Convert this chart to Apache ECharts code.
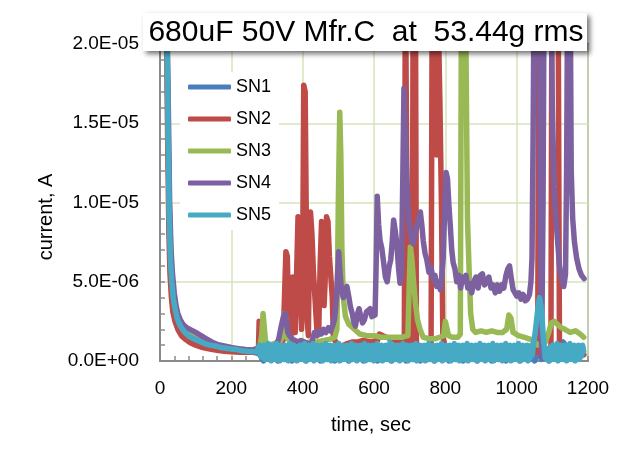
<!DOCTYPE html>
<html>
<head>
<meta charset="utf-8">
<script src="https://cdn.jsdelivr.net/npm/echarts@6/dist/echarts.min.js"></script>
<style>
html,body{margin:0;padding:0;background:#fff;}
#chart{width:620px;height:453px;}
</style>
</head>
<body>
<div id="chart"></div>
<script>
// values in microamps (1e-6 A); time in seconds
const seriesNames = ['SN1', 'SN2', 'SN3', 'SN4', 'SN5'];
const yTickLabels = ['0.0E+00', '5.0E-06', '1.0E-05', '1.5E-05', '2.0E-05'];
const xTickLabels = ['0', '200', '400', '600', '800', '1000', '1200'];
const titleText = '680uF 50V Mfr.C  at  53.44g rms';
const xName = 'time, sec';
const yName = 'current, A';

const sn1 = [[15,25],[20,19],[24,12],[28,7.5],[32,5.2],[36,4],[42,3.1],[50,2.5],[60,2.0],[72,1.7],[85,1.5],[100,1.35],[118,1.2],[135,1.05],[155,0.95],[175,0.85],[200,0.75],[225,0.68],[250,0.6],[272,0.5],
[280,0.4],[290,0.0],[300,0.5],[310,0.1],[320,0.4],[330,0.0],[340,0.6],[350,0.1],[360,0.3],[370,0.0],[380,0.5],[390,0.1],[400,0.4],[410,0.0],[420,0.6],[430,0.1],[440,0.3],[450,0.0],[460,0.5],[470,0.1],[480,0.4],[490,0.0],[500,0.6],[510,0.1],[520,0.3],[530,0.0],[540,0.5],[550,0.1],[560,0.4],[570,0.0],[580,0.6],[590,0.1],[600,0.3],[610,0.0],[620,0.5],[630,0.1],[640,0.4],[650,0.0],[660,0.6],[670,0.1],[680,0.3],[690,0.0],[700,0.5],[710,0.1],[720,0.4],[730,0.0],[740,0.6],[750,0.1],[760,0.3],[770,0.0],[780,0.5],[790,0.1],[800,0.4],[810,0.0],[820,0.6],[830,0.1],[840,0.3],[850,0.0],[860,0.5],[870,0.1],[880,0.4],[890,0.0],[900,0.6],[910,0.1],[920,0.3],[930,0.0],[940,0.5],[950,0.1],[960,0.4],[970,0.0],[980,0.6],[990,0.1],[1000,0.3],[1010,0.0],[1020,0.5],[1030,0.1],[1040,0.4],[1050,0.0],[1060,0.5],[1070,0.1],[1080,0.4],[1090,0.0],[1100,0.6],[1110,0.2],[1120,1.0],[1130,1.2],[1140,0.9],[1150,0.3],[1160,0.6],[1170,0.2],[1180,0.7],[1188,0.4]];

const sn2 = [[15,25],[19,19],[22,13],[25,8],[28,5.5],[32,4],[36,3.1],[42,2.5],[50,2.0],[60,1.6],[72,1.35],[85,1.15],[100,1.0],[120,0.85],[140,0.75],[160,0.68],[180,0.62],[200,0.58],[225,0.55],[250,0.55],[270,0.6],
[276,0.7],[278,2.5],[283,2.5],[286,0.8],[295,0.7],[305,0.8],[315,0.9],[325,1.0],[335,1.1],[345,1.3],[349,4.0],[353,6.9],[357,6.6],[360,3.2],[364,3.0],[368,1.6],[372,5.3],[375,4.5],[379,1.8],[383,5.5],[387,9.1],[391,8.5],[394,4.0],[397,2.0],[400,6.0],[403,17.4],[407,17.0],[410,9.5],[413,2.5],[416,1.6],[419,7.0],[422,9.4],[426,8.0],[430,5.7],[434,5.6],[437,3.0],[441,1.6],[445,1.8],[449,6.0],[453,8.8],[457,8.5],[460,3.5],[463,5.0],[467,9.1],[471,8.8],[475,6.6],[479,6.6],[483,4.0],[486,1.6],[490,1.3],[496,1.1],[505,1.0],[511,0.9],[513,0.2],[515,1.0],[525,1.1],[540,1.2],[555,1.2],[570,1.3],[590,1.2],[610,1.3],[615,1.7],[625,1.6],[635,1.5],[645,1.4],[660,1.3],[675,1.2],[685,1.0],[688,25],[692,25],[695,0.9],[700,0.8],[707,0.9],[710,25],[716,25],[719,0.6],[730,0.7],[745,0.8],[760,0.9],[763,22],[768,14],[772,22],[776,13],[780,22],[785,16],[789,10],[793,1.5],[800,0.9],[815,0.8],[830,0.8],[850,0.7],[870,0.7],[890,0.6],[910,0.6],[930,0.7],[950,0.6],[970,0.6],[990,0.5],[1010,0.5],[1030,0.5],[1050,0.5],[1059,0.6],[1062,25],[1065,25],[1068,0.4],[1080,0.4],[1096,0.5],[1099,25],[1116,25],[1120,0.8],[1130,0.6],[1150,0.5],[1170,0.5],[1188,0.4]];

const sn3 = [[15,26],[20,20],[24,13],[27,9],[30,7],[34,5.2],[38,4.2],[44,3.3],[52,2.6],[60,2.2],[70,1.9],[82,1.65],[95,1.5],[110,1.3],[130,1.15],[150,1.0],[175,0.9],[200,0.8],[225,0.72],[250,0.68],[270,0.75],
[280,0.9],[285,1.6],[289,3.0],[292,2.9],[296,1.2],[305,1.0],[320,1.1],[335,1.2],[343,1.5],[348,3.0],[352,2.8],[356,1.5],[365,1.2],[380,1.1],[400,1.1],[420,1.2],[440,1.2],[460,1.3],[480,1.4],[490,1.5],[496,2.0],[500,10],[504,15.7],[507,13],[510,7],[514,4],[520,2.8],[530,2.3],[545,2.0],[560,1.7],[580,1.6],[600,1.6],[620,1.5],[640,1.5],[660,1.5],[680,1.5],[695,1.6],[699,5],[702,7.2],[706,6.5],[711,5],[716,3.7],[722,2.6],[729,2.0],[738,1.5],[755,1.4],[770,1.4],[785,1.5],[795,1.6],[800,2.5],[805,2.6],[809,1.6],[820,1.5],[835,1.5],[842,1.7],[845,22],[857,22],[862,9],[867,5.5],[871,3.0],[877,2.0],[885,1.8],[900,1.9],[915,1.8],[930,1.9],[945,1.8],[960,1.8],[972,2.0],[978,2.9],[984,2.7],[990,1.8],[1005,1.6],[1020,1.5],[1035,1.4],[1045,1.3],[1060,1.0],[1080,1.2],[1090,1.8],[1097,2.4],[1105,2.5],[1115,2.3],[1125,2.1],[1135,2.0],[1150,1.8],[1165,1.9],[1178,1.7],[1188,1.5]];

const sn4 = [[15,27],[20,21],[24,15],[27,10],[31,7],[35,5.5],[40,4.3],[45,3.5],[50,3.0],[57,2.6],[65,2.3],[75,2.1],[88,1.95],[100,1.8],[115,1.6],[130,1.4],[145,1.2],[160,1.05],[180,0.95],[200,0.85],[220,0.78],[240,0.72],[260,0.7],[275,0.8],
[285,0.9],[300,0.85],[315,0.9],[325,1.0],[333,1.4],[340,2.2],[346,2.8],[350,3.0],[354,2.6],[358,1.8],[363,1.6],[370,1.4],[378,1.3],[386,1.2],[395,1.3],[405,1.2],[413,1.1],[420,0.9],[427,1.3],[433,1.8],[440,1.6],[446,1.9],[452,1.7],[458,2.0],[465,1.8],[472,2.1],[478,1.9],[484,2.2],[489,2.6],[493,3.5],[497,5.0],[501,6.9],[505,5.5],[509,4.4],[514,4.0],[519,4.5],[524,4.7],[529,4.1],[534,3.4],[539,3.0],[544,2.4],[548,2.2],[553,2.9],[558,3.3],[563,2.8],[568,2.4],[573,2.6],[579,3.1],[584,3.2],[589,3.3],[594,2.8],[599,2.7],[603,2.9],[606,6.0],[609,10.4],[613,8.6],[617,7.6],[622,7.1],[627,6.2],[632,5.3],[637,5.0],[642,5.9],[647,6.4],[651,7.5],[655,8.9],[659,8.3],[664,7.4],[669,5.8],[673,4.9],[677,5.6],[681,12],[684,17.2],[688,14],[692,11.5],[697,9.0],[701,8.3],[705,7.6],[710,7.4],[715,8.0],[720,8.5],[725,8.9],[730,9.4],[734,8.6],[738,7.6],[743,6.8],[748,6.4],[754,5.6],[760,5.9],[766,5.1],[771,5.4],[776,4.7],[781,5.0],[786,4.5],[790,5.4],[794,6.5],[798,9.5],[802,11.9],[806,11.5],[810,9.8],[814,8.5],[818,7.0],[822,6.2],[827,5.8],[832,5.0],[838,5.4],[843,4.6],[848,5.3],[853,5.0],[858,5.4],[863,4.6],[868,4.9],[874,4.3],[880,5.0],[886,5.3],[892,4.6],[898,5.4],[904,5.5],[910,4.8],[916,5.0],[922,5.3],[928,4.6],[934,4.8],[940,4.3],[946,4.8],[952,4.4],[958,4.8],[964,4.6],[970,5.4],[975,5.8],[980,6.0],[985,5.2],[990,4.5],[995,4.6],[1000,4.1],[1006,4.3],[1012,3.9],[1018,4.2],[1024,3.8],[1030,3.9],[1036,4.2],[1040,5.0],[1043,6.5],[1046,14],[1049,24],[1062,24],[1066,12],[1070,0.3],[1074,10],[1077,24],[1096,24],[1100,16],[1105,11],[1110,9],[1115,7.5],[1120,6.0],[1126,5.2],[1132,4.7],[1137,5.5],[1140,12],[1143,24],[1150,24],[1153,12],[1157,9],[1162,7.5],[1168,6.5],[1175,5.8],[1182,5.4],[1189,5.2]];

const sn5 = [[15,26],[20,20],[23,14],[26,9],[29,6.5],[33,5],[37,4],[42,3.3],[48,2.7],[55,2.3],[63,2.0],[72,1.75],[82,1.55],[95,1.4],[110,1.25],[125,1.1],[140,1.0],[155,0.95],[170,0.85],[185,0.8],[200,0.75],[215,0.72],[230,0.65],[245,0.62],[260,0.6],[272,0.58],
[276,0.6],[279,1.0],[282,0.3],[285,0.8],[288,0.2],[291,1.0],[294,0.1],[297,0.9],[300,0.2],[303,1.1],[306,0.3],[309,0.8],[312,0.0],[315,1.0],[318,0.2],[321,0.9],[324,0.1],[327,1.1],[330,0.3],[333,0.9],[336,0.0],[339,1.0],[342,0.2],[345,0.8],[348,0.1],[351,1.0],[354,0.3],[357,0.9],[360,0.0],[363,1.1],[366,0.2],[369,0.8],[372,0.1],[375,1.0],[378,0.3],[381,0.9],[384,0.0],[387,0.8],[390,0.2],[393,1.0],[396,0.1],[399,0.9],[402,0.3],[405,1.1],[408,0.0],[411,0.8],[414,0.2],[417,1.0],[420,0.1],[423,0.9],[426,0.3],[429,1.1],[432,0.0],[435,0.9],[438,0.2],[441,1.0],[444,0.1],[447,0.8],[450,0.3],[453,1.0],[456,0.0],[459,0.9],[462,0.2],[465,1.1],[468,0.1],[471,0.9],[474,0.3],[477,1.0],[480,0.0],[483,0.8],[486,0.2],[489,1.0],[492,0.1],[495,0.9],[498,0.3],[501,1.1],[504,0.0],[507,0.9],[510,0.2],[513,1.0],[516,0.1],[519,0.8],[522,0.3],[525,1.0],[528,0.0],[531,0.9],[534,0.2],[537,1.1],[540,0.1],[543,0.9],[546,0.3],[549,1.0],[552,0.0],[555,0.8],[558,0.2],[561,1.0],[564,0.1],[567,0.9],[570,0.3],[573,1.1],[576,0.0],[579,0.9],[582,0.2],[585,1.0],[588,0.1],[591,0.8],[594,0.3],[597,1.0],[600,0.0],[603,0.9],[606,0.2],[609,1.1],[612,0.1],[615,0.9],[618,0.3],[621,1.0],[624,0.0],[627,0.8],[630,0.2],[633,1.0],[636,0.1],[639,0.9],[642,0.3],[645,1.2],[648,0.0],[651,0.9],[654,0.2],[657,1.0],[660,0.1],[663,0.8],[666,0.3],[669,1.0],[672,0.0],[675,0.9],[678,0.2],[681,1.1],[684,0.1],[687,0.9],[690,0.3],[693,1.0],[696,0.0],[699,0.8],[702,0.2],[705,1.0],[708,0.1],[711,0.9],[714,0.3],[717,1.1],[720,0.0],[723,0.9],[726,0.2],[729,1.0],[732,0.1],[735,0.8],[738,0.3],[741,1.0],[744,0.0],[747,0.9],[750,0.2],[753,1.1],[756,0.1],[759,0.9],[762,0.3],[765,1.0],[768,0.0],[771,0.8],[774,0.2],[777,1.0],[780,0.1],[783,0.9],[786,0.3],[789,1.1],[792,0.0],[795,0.9],[798,0.2],[801,1.0],[804,0.1],[807,0.8],[810,0.3],[813,1.0],[816,0.0],[819,0.9],[822,0.2],[825,1.1],[828,0.1],[831,0.9],[834,0.3],[837,1.0],[840,0.0],[843,0.8],[846,0.2],[849,1.0],[852,0.1],[855,0.9],[858,0.3],[861,1.1],[864,0.0],[867,0.9],[870,0.2],[873,1.0],[876,0.1],[879,0.8],[882,0.3],[885,1.0],[888,0.0],[891,0.9],[894,0.2],[897,1.1],[900,0.1],[903,0.9],[906,0.3],[909,1.0],[912,0.0],[915,0.8],[918,0.2],[921,1.0],[924,0.1],[927,0.9],[930,0.3],[933,1.1],[936,0.0],[939,0.9],[942,0.2],[945,1.0],[948,0.1],[951,0.8],[954,0.3],[957,1.0],[960,0.0],[963,0.9],[966,0.2],[969,1.1],[972,0.1],[975,0.9],[978,0.3],[981,1.0],[984,0.0],[987,0.8],[990,0.2],[993,1.0],[996,0.1],[999,0.9],[1002,0.3],[1005,1.1],[1008,0.0],[1011,0.9],[1014,0.2],[1017,1.0],[1020,0.1],[1023,0.8],[1026,0.3],[1029,1.0],[1032,0.0],[1035,0.9],[1038,0.2],[1041,1.0],[1044,0.4],[1048,1.2],[1052,1.8],[1056,2.6],[1060,3.4],[1064,4.0],[1068,3.5],[1072,2.4],[1076,1.2],[1080,0.2],[1083,0.8],[1086,0.1],[1089,0.6],[1092,0.0],[1095,0.9],[1098,0.2],[1101,1.0],[1104,0.1],[1107,0.9],[1110,0.3],[1113,1.1],[1116,0.0],[1119,0.9],[1122,0.2],[1125,1.0],[1128,0.1],[1131,0.8],[1134,0.3],[1137,1.0],[1140,0.0],[1143,0.9],[1146,0.2],[1149,1.1],[1152,0.1],[1155,0.9],[1158,0.3],[1161,1.0],[1164,0.0],[1167,0.8],[1170,0.2],[1173,1.0],[1176,0.1],[1179,0.9],[1182,0.3],[1185,1.0],[1188,0.6]];

const seriesData = [sn1, sn2, sn3, sn4, sn5];
const colors = ['#4a7ebb', '#be4b48', '#98b954', '#7d60a0', '#46aac5'];

const FONT = "'Liberation Sans', Arial, sans-serif";
const chart = echarts.init(document.getElementById('chart'), null, {renderer: 'canvas'});

chart.setOption({
  animation: false,
  color: colors,
  grid: {left: 160, right: 32, top: 44, bottom: 92, show: true, borderColor: '#8a8a8a', borderWidth: 2, backgroundColor: 'transparent'},
  legend: {
    orient: 'vertical', left: 180, top: 72,
    icon: 'roundRect', itemWidth: 43, itemHeight: 5, itemGap: 14,
    padding: [6, 8, 6, 8],
    backgroundColor: '#ffffff',
    textStyle: {fontFamily: FONT, fontSize: 18, color: '#000'},
    data: seriesNames
  },
  xAxis: {
    type: 'value', min: 0, max: 1200, interval: 200,
    axisLine: {show: true, lineStyle: {color: '#8a8a8a', width: 2}},
    axisTick: {show: true, inside: true, length: 5, lineStyle: {color: '#8a8a8a', width: 1.5}},
    minorTick: {show: true, splitNumber: 5, length: 5, lineStyle: {color: '#8a8a8a', width: 1.5}},
    axisLabel: {fontFamily: FONT, fontSize: 19, color: '#000', margin: 18,
      formatter: function (v) { return xTickLabels[Math.round(v / 200)]; }},
    splitLine: {show: true, lineStyle: {color: '#d6e4bd', width: 1.5}}
  },
  yAxis: {
    type: 'value', min: 0, max: 20, interval: 5,
    axisLine: {show: true, lineStyle: {color: '#8a8a8a', width: 2}},
    axisTick: {show: true, inside: true, length: 5, lineStyle: {color: '#8a8a8a', width: 1.5}},
    minorTick: {show: true, splitNumber: 5, length: 5, lineStyle: {color: '#8a8a8a', width: 1.5}},
    axisLabel: {fontFamily: FONT, fontSize: 19, color: '#000', margin: 21,
      formatter: function (v) { return yTickLabels[Math.round(v / 5)]; }},
    splitLine: {show: true, lineStyle: {color: '#d6e4bd', width: 1.5}}
  },
  series: seriesNames.map(function (n, i) {
    return {
      name: n, type: 'line', data: seriesData[i], showSymbol: false, symbol: 'none',
      clip: true,
      lineStyle: {width: 5.5, color: colors[i], cap: 'round', join: 'round'},
      itemStyle: {color: colors[i]},
      z: 2 + i
    };
  }),
  graphic: [
    {
      type: 'rect', z: 100,
      shape: {x: 143, y: 13, width: 444, height: 38},
      style: {fill: '#ffffff', shadowBlur: 5, shadowOffsetX: 3, shadowOffsetY: 3, shadowColor: 'rgba(0,0,0,0.55)'}
    },
    {
      type: 'text', z: 101, x: 366, y: 33,
      style: {text: titleText, fontFamily: FONT, fontSize: 30, fill: '#000', align: 'center', verticalAlign: 'middle'}
    },
    {
      type: 'text', z: 101, x: 46, y: 217, rotation: Math.PI / 2,
      style: {text: yName, fontFamily: FONT, fontSize: 20, fill: '#000', align: 'center', verticalAlign: 'middle'}
    },
    {
      type: 'text', z: 101, x: 371, y: 425,
      style: {text: xName, fontFamily: FONT, fontSize: 20, fill: '#000', align: 'center', verticalAlign: 'middle'}
    }
  ]
});
</script>
</body>
</html>
